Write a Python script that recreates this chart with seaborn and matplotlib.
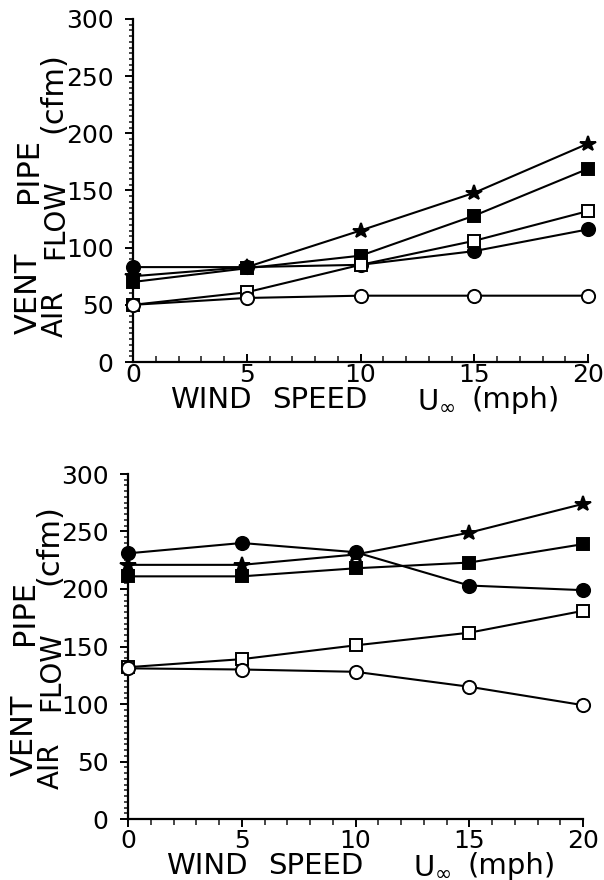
import matplotlib
matplotlib.use("Agg")
import matplotlib.pyplot as plt
import seaborn as sns
import pandas as pd
from matplotlib.ticker import MultipleLocator

# ---------------- data ----------------
wind_speed = [0, 5, 10, 15, 20]

top_filled_circle = [83, 83, 85, 97, 116]
top_star = [75, 83, 115, 148, 191]
top_filled_square = [70, 82, 93, 128, 169]
top_open_square = [50, 61, 85, 106, 132]
top_open_circle = [50, 56, 58, 58, 58]

bot_filled_circle = [231, 240, 232, 203, 199]
bot_star = [221, 221, 230, 249, 274]
bot_filled_square = [211, 211, 218, 223, 239]
bot_open_square = [132, 139, 151, 162, 181]
bot_open_circle = [131, 130, 128, 115, 99]

x_ticks = [0, 5, 10, 15, 20]
y_ticks = [0, 50, 100, 150, 200, 250, 300]

# ---------------- style ----------------
sns.set_theme(style="white")
plt.rcParams['font.family'] = ['DejaVu Sans']

W, H = 604, 880
fig = plt.figure(figsize=(W / 100, H / 100), dpi=100)


def fx(px):
    return px / W


def fy(py):
    return 1 - py / H


series_style = [
    # (name, marker, size, filled)
    ("filled_circle", "o", 9.5, True),
    ("star", "*", 11.5, True),
    ("filled_square", "s", 8.5, True),
    ("open_square", "s", 8.5, False),
    ("open_circle", "o", 9.5, False),
]


def draw_panel(rect, data, xtick_dir):
    ax = fig.add_axes(rect)
    df = pd.DataFrame({"speed": wind_speed, **data})
    for name, mk, ms, filled in series_style:
        sns.lineplot(data=df, x="speed", y=name, ax=ax, color="black",
                     linewidth=1.5, marker=mk, markersize=ms,
                     markerfacecolor="black" if filled else "white",
                     markeredgecolor="black", markeredgewidth=1.4,
                     clip_on=False, zorder=3)
    ax.set_xlim(0, 20)
    ax.set_ylim(0, 300)
    ax.set_xticks(x_ticks)
    ax.set_yticks(y_ticks)
    ax.xaxis.set_minor_locator(MultipleLocator(1))
    ax.yaxis.set_minor_locator(MultipleLocator(5))
    ax.set_xlabel("")
    ax.set_ylabel("")
    for s in ["top", "right"]:
        ax.spines[s].set_visible(False)
    for s in ["left", "bottom"]:
        ax.spines[s].set_linewidth(1.6)
        ax.spines[s].set_color("black")
    ax.tick_params(axis="y", which="major", direction="out", length=6,
                   width=1.4, labelsize=18, pad=8, colors="black", left=True)
    ax.tick_params(axis="y", which="minor", direction="out", length=3,
                   width=1.2, left=True)
    ax.tick_params(axis="x", which="major", direction=xtick_dir, length=6,
                   width=1.4, labelsize=18, pad=1, colors="black", bottom=True)
    ax.tick_params(axis="x", which="minor", direction=xtick_dir, length=4,
                   width=1.2, bottom=True)
    ax.grid(False)
    return ax


ax1 = draw_panel([fx(133), fy(362), fx(455), 343 / H],
                 {"filled_circle": top_filled_circle, "star": top_star,
                  "filled_square": top_filled_square,
                  "open_square": top_open_square,
                  "open_circle": top_open_circle}, "in")
ax2 = draw_panel([fx(128), fy(819), fx(455), 345 / H],
                 {"filled_circle": bot_filled_circle, "star": bot_star,
                  "filled_square": bot_filled_square,
                  "open_square": bot_open_square,
                  "open_circle": bot_open_circle}, "out")


def vtext(s, bx, by, size):
    fig.text(fx(bx), fy(by), s, rotation=90, rotation_mode="anchor",
             ha="left", va="baseline", fontsize=size, color="black")


def htext(s, bx, by, size):
    fig.text(fx(bx), fy(by), s, ha="left", va="baseline",
             fontsize=size, color="black")


def labels(dy_v, dy_a, dy_c, dx, dy_x):
    vtext("VENT", 37 + dx, 334 + dy_v, 22)
    vtext("PIPE", 37 + dx, 203 + dy_v, 22)
    vtext("AIR", 63 + dx, 337 + dy_a, 20)
    vtext("FLOW", 63 + dx, 259 + dy_a, 20)
    vtext("(cfm)", 61 + dx, 133 + dy_c, 22)
    htext("WIND", 170 + dx, 408 + dy_x, 21)
    htext("SPEED", 272 + dx, 408 + dy_x, 21)
    htext(r"U$_{\infty}$", 417 + dx, 408 + dy_x, 21)
    htext("(mph)", 472 + dx, 408 + dy_x, 21)


labels(0, 0, 0, 0, 0)
labels(442, 452, 452, -4, 466)

fig.savefig("out.png", dpi=100)
